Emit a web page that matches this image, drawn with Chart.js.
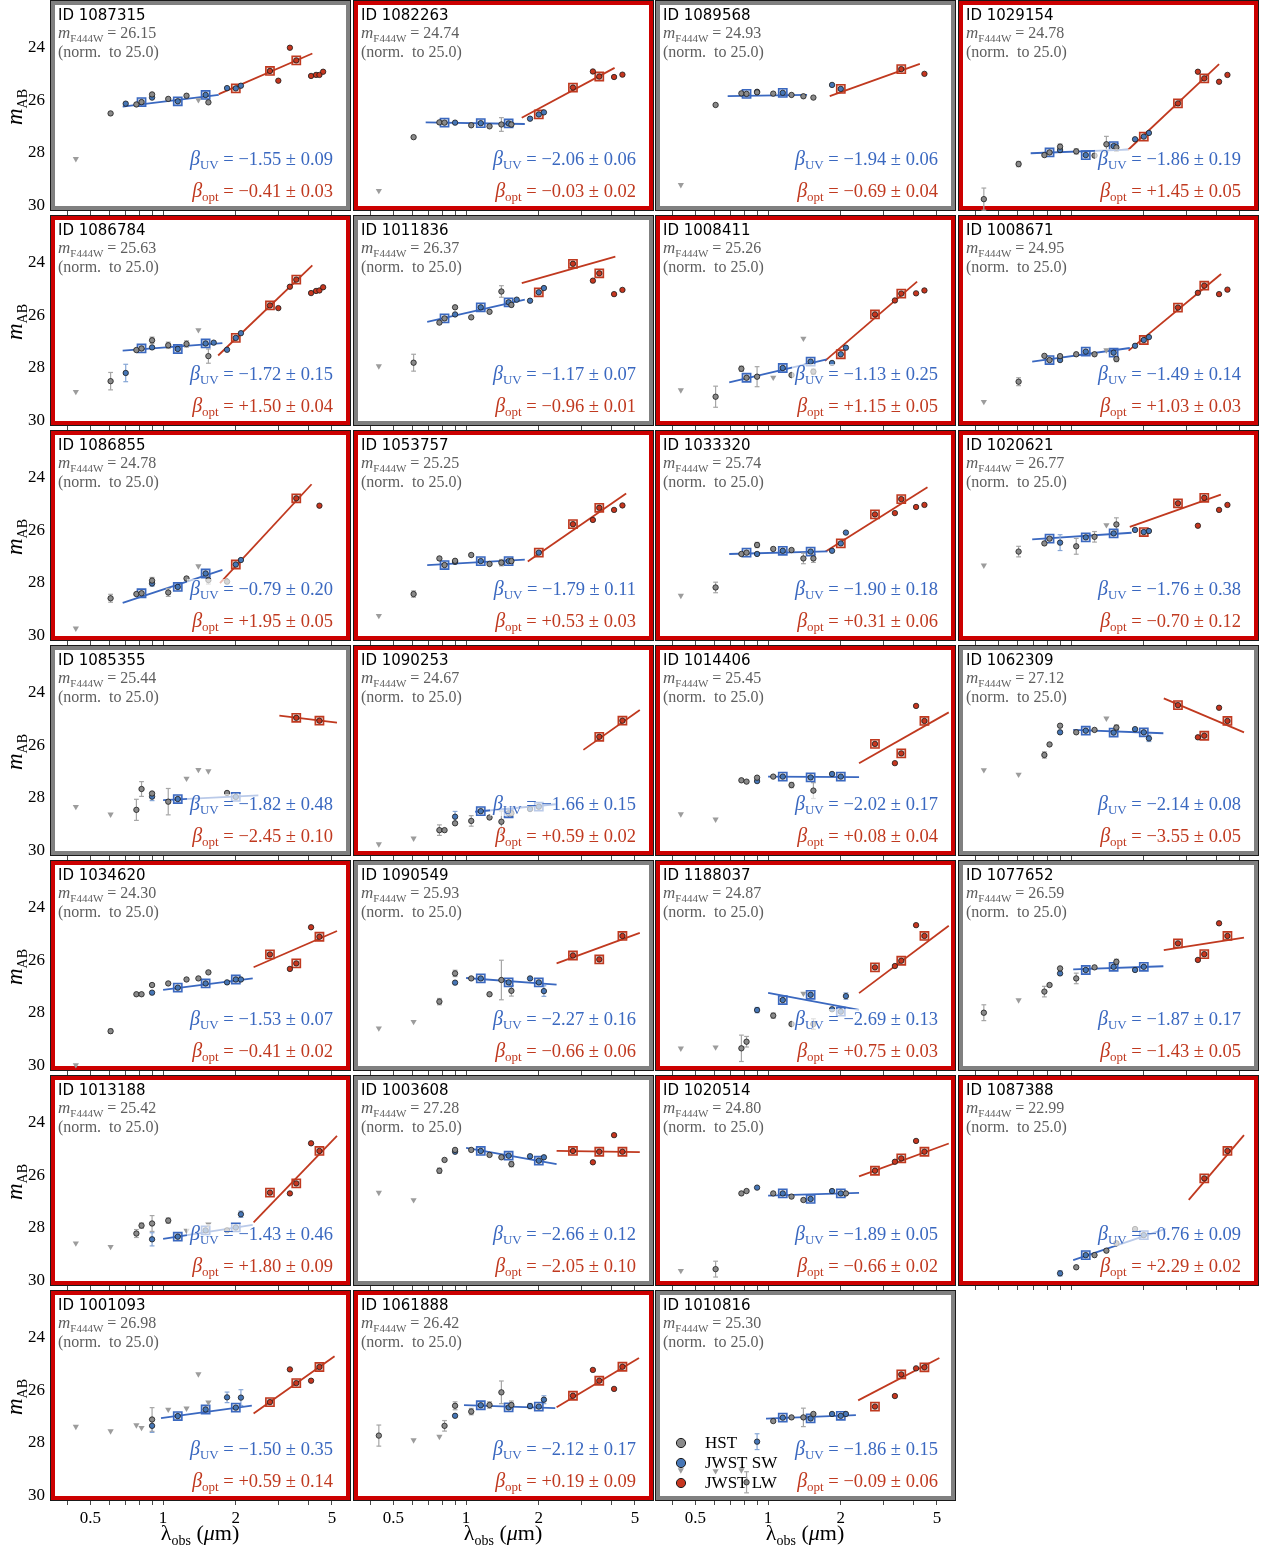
<!DOCTYPE html>
<html>
<head>
<meta charset="utf-8">
<script src="https://cdn.jsdelivr.net/npm/chart.js@4.4.1/dist/chart.umd.min.js"></script>
<style>
html,body{margin:0;padding:0;background:#fff;}
#wrap{position:relative;width:1266px;height:1549px;overflow:hidden;background:#fff;}
#wrap canvas{position:absolute;}
</style>
</head>
<body>
<div id="wrap"></div>
<script>
// ---- Source data: one entry per galaxy, in panel order (row by row, 4 per row) ----
const ids = ['1087315','1082263','1089568','1029154','1086784','1011836','1008411','1008671',
  '1086855','1053757','1033320','1020621','1085355','1090253','1014406','1062309',
  '1034620','1090549','1188037','1077652','1013188','1003608','1020514','1087388',
  '1001093','1061888','1010816'];
const mF444W = [26.15,24.74,24.93,24.78,25.63,26.37,25.26,24.95,24.78,25.25,25.74,26.77,25.44,24.67,
  25.45,27.12,24.30,25.93,24.87,26.59,25.42,27.28,24.80,22.99,26.98,26.42,25.30];
// [value, uncertainty]
const betaUV = [[-1.55,0.09],[-2.06,0.06],[-1.94,0.06],[-1.86,0.19],[-1.72,0.15],[-1.17,0.07],[-1.13,0.25],
  [-1.49,0.14],[-0.79,0.20],[-1.79,0.11],[-1.90,0.18],[-1.76,0.38],[-1.82,0.48],[-1.66,0.15],[-2.02,0.17],
  [-2.14,0.08],[-1.53,0.07],[-2.27,0.16],[-2.69,0.13],[-1.87,0.17],[-1.43,0.46],[-2.66,0.12],[-1.89,0.05],
  [-0.76,0.09],[-1.50,0.35],[-2.12,0.17],[-1.86,0.15]];
const betaOpt = [[-0.41,0.03],[-0.03,0.02],[-0.69,0.04],[1.45,0.05],[1.50,0.04],[-0.96,0.01],[1.15,0.05],
  [1.03,0.03],[1.95,0.05],[0.53,0.03],[0.31,0.06],[-0.70,0.12],[-2.45,0.10],[0.59,0.02],[0.08,0.04],
  [-3.55,0.05],[-0.41,0.02],[-0.66,0.06],[0.75,0.03],[-1.43,0.05],[1.80,0.09],[-2.05,0.10],[-0.66,0.02],
  [2.29,0.02],[0.59,0.14],[0.19,0.09],[-0.09,0.06]];
// 1 = flagged (red frame), 0 = not flagged (grey frame)
const flagged = [0,1,0,1, 1,0,1,1, 1,1,1,1, 0,1,1,0, 1,0,1,0, 1,0,1,1, 1,1,0];

// photometry: [lambda_obs (um), m_AB, error]
const hstPts = [
  [[0.606,26.50,0],[0.775,26.16,0],[0.814,26.07,0],[0.90,25.78,0],[1.05,25.95,0],[1.25,25.83,0],[1.54,26.08,0]],
  [[0.606,27.40,0],[0.775,26.84,0],[0.814,26.85,0],[1.05,26.95,0],[1.25,26.99,0],[1.40,26.92,0.26],[1.54,26.92,0]],
  [[0.606,26.18,0],[0.775,25.74,0],[0.814,25.76,0],[0.90,25.70,0],[1.05,25.75,0],[1.25,25.80,0],[1.40,25.85,0],[1.54,25.90,0]],
  [[0.435,29.75,0.42],[0.606,28.42,0.1],[0.775,28.08,0],[0.814,27.98,0],[0.90,27.76,0.1],[1.05,27.94,0.1],[1.25,28.10,0],[1.40,27.67,0.3],[1.54,27.79,0.15]],
  [[0.606,28.50,0.33],[0.775,27.32,0],[0.814,27.26,0],[0.90,26.95,0.12],[1.05,27.14,0.12],[1.25,27.09,0.12],[1.54,27.55,0.27]],
  [[0.606,27.80,0.32],[0.775,26.28,0],[0.814,26.12,0],[0.90,25.70,0],[1.05,26.08,0],[1.25,25.87,0],[1.40,25.10,0.22],[1.54,25.61,0]],
  [[0.606,29.09,0.4],[0.775,28.03,0.1],[0.814,28.37,0],[0.90,28.33,0.38],[1.25,28.27,0],[1.54,28.14,0.1]],
  [[0.606,28.52,0.15],[0.775,27.54,0],[0.814,27.70,0],[0.90,27.55,0],[1.05,27.48,0],[1.25,27.48,0],[1.54,27.66,0.1]],
  [[0.606,28.58,0.15],[0.775,28.42,0],[0.814,28.39,0],[0.90,27.91,0.12],[1.05,28.36,0.15],[1.25,27.83,0],[1.54,27.89,0.15],[1.84,27.95,0]],
  [[0.606,28.42,0.12],[0.775,27.07,0],[0.814,27.32,0],[0.90,27.16,0],[1.05,26.94,0],[1.25,27.28,0],[1.40,27.23,0.12],[1.54,27.17,0]],
  [[0.606,28.17,0.2],[0.775,26.90,0],[0.814,26.85,0],[0.90,26.56,0.1],[1.05,26.71,0],[1.25,26.75,0],[1.40,27.07,0.2],[1.54,27.07,0.15]],
  [[0.606,26.81,0.2],[0.775,26.50,0],[0.814,26.32,0],[1.05,26.61,0.3],[1.25,26.25,0.2],[1.54,25.78,0.25]],
  [[0.775,28.45,0.4],[0.814,27.66,0.28],[0.90,27.83,0],[1.05,28.14,0.5],[1.84,27.81,0]],
  [[0.775,29.22,0.2],[0.814,29.22,0],[0.90,28.96,0],[1.05,28.87,0.2],[1.25,28.74,0],[1.40,28.90,0.4],[1.54,28.58,0]],
  [[0.775,27.33,0],[0.814,27.38,0],[0.90,27.23,0],[1.05,27.19,0],[1.25,27.51,0.1],[1.54,27.72,0.3]],
  [[0.775,26.37,0.12],[0.814,25.97,0],[0.90,25.26,0],[1.05,25.51,0],[1.25,25.42,0],[1.54,25.33,0.1]],
  [[0.606,28.69,0.08],[0.775,27.29,0],[0.814,27.29,0],[0.90,26.94,0],[1.05,26.88,0],[1.25,26.73,0],[1.40,26.69,0],[1.54,26.46,0]],
  [[0.775,27.57,0.12],[0.90,26.50,0.12],[1.05,26.69,0],[1.25,27.29,0],[1.40,26.75,0.75],[1.54,27.16,0.2]],
  [[0.775,29.34,0.5],[0.814,29.09,0.2],[1.05,28.10,0.1],[1.25,28.42,0],[1.54,28.42,0.2]],
  [[0.435,27.99,0.3],[0.775,27.19,0.2],[0.814,26.94,0],[0.90,26.31,0],[1.05,26.69,0.2],[1.25,26.27,0],[1.54,26.06,0.1]],
  [[0.775,28.21,0.15],[0.814,27.91,0.1],[0.90,27.83,0.3],[1.05,27.72,0.1],[1.84,28.09,0]],
  [[0.775,25.83,0.1],[0.814,25.42,0],[0.90,25.04,0],[1.05,25.04,0],[1.25,25.23,0],[1.40,25.32,0],[1.54,25.58,0.1]],
  [[0.606,29.56,0.3],[0.775,26.69,0],[0.814,26.60,0],[1.05,26.69,0],[1.25,26.81,0],[1.40,26.94,0],[2.1,26.69,0]],
  [[1.05,29.49,0],[1.25,29.03,0],[1.40,28.86,0],[1.54,28.58,0],[1.84,28.04,0]],
  [[0.90,27.11,0.45]],
  [[0.435,27.72,0.4],[0.814,27.35,0.2],[0.90,26.59,0.15],[1.05,26.81,0.12],[1.25,26.56,0.12],[1.40,26.08,0.43],[1.54,26.56,0.15]],
  [[0.814,29.49,0.4],[1.05,27.17,0],[1.25,27.03,0],[1.40,27.03,0.35],[1.54,26.90,0]]
];
const swPts = [
  [[0.70,26.13,0],[0.90,25.90,0],[1.15,26.04,0],[1.50,25.80,0],[1.84,25.54,0],[2.0,25.55,0],[2.1,25.45,0]],
  [[0.90,26.85,0],[1.15,26.87,0],[1.50,26.88,0],[1.84,26.70,0],[2.0,26.54,0],[2.1,26.46,0]],
  [[0.90,25.68,0],[1.15,25.72,0],[1.84,25.42,0],[2.0,25.57,0]],
  [[0.90,27.89,0],[1.15,28.08,0],[1.50,27.74,0],[1.84,27.48,0],[2.0,27.38,0],[2.1,27.24,0]],
  [[0.70,28.19,0.33],[0.90,27.22,0],[1.15,27.28,0],[1.50,27.07,0],[1.62,27.04,0],[1.84,27.31,0],[2.0,26.86,0],[2.1,26.68,0]],
  [[0.90,25.97,0],[1.15,25.70,0],[1.50,25.51,0],[1.62,25.41,0],[1.84,25.45,0],[2.0,25.13,0],[2.1,24.97,0]],
  [[1.15,28.00,0],[1.50,27.76,0],[1.84,27.81,0],[2.0,27.48,0],[2.1,27.23,0]],
  [[0.90,27.70,0],[1.15,27.38,0],[1.50,27.42,0],[1.84,27.16,0],[2.0,26.94,0],[2.1,26.83,0]],
  [[0.90,28.02,0.1],[1.15,28.15,0],[1.50,27.64,0],[2.0,27.30,0],[2.1,27.13,0]],
  [[0.90,27.20,0],[1.15,27.17,0],[1.50,27.17,0],[2.0,26.85,0]],
  [[0.90,26.90,0],[1.15,26.78,0],[1.50,26.81,0],[1.84,26.78,0],[2.0,26.50,0],[2.1,26.09,0]],
  [[0.90,26.47,0.3],[1.15,26.27,0],[1.50,26.12,0],[1.84,25.99,0],[2.0,26.07,0],[2.1,26.03,0]],
  [[0.90,27.95,0.15],[1.15,28.04,0],[2.0,27.96,0]],
  [[0.90,28.71,0.2],[1.15,28.50,0],[1.50,28.58,0],[1.84,28.42,0],[2.0,28.33,0]],
  [[0.90,27.36,0],[1.15,27.19,0],[1.50,27.22,0],[1.84,27.09,0],[2.0,27.19,0]],
  [[0.90,25.51,0],[1.15,25.45,0],[1.50,25.52,0],[1.84,25.39,0],[2.0,25.51,0],[2.1,25.74,0.12]],
  [[0.90,27.23,0],[1.15,27.04,0],[1.50,26.88,0],[1.84,26.84,0],[2.0,26.73,0],[2.1,26.73,0]],
  [[0.90,26.85,0],[1.15,26.69,0],[1.50,26.84,0],[1.84,26.69,0],[2.0,26.84,0],[2.1,27.17,0.2]],
  [[0.90,27.89,0.1],[1.15,27.51,0],[1.50,27.31,0],[1.84,27.86,0],[2.0,27.95,0],[2.1,27.36,0.12]],
  [[0.90,26.50,0],[1.15,26.37,0],[1.50,26.25,0],[1.84,26.37,0],[2.0,26.25,0]],
  [[0.90,28.43,0.25],[1.15,28.33,0],[1.50,28.09,0],[2.0,27.98,0],[2.1,27.48,0.12]],
  [[0.90,25.11,0],[1.15,25.08,0],[1.50,25.26,0],[1.84,25.28,0],[2.0,25.45,0],[2.1,25.32,0]],
  [[0.90,26.47,0],[1.15,26.69,0],[1.50,26.90,0],[1.84,26.60,0],[2.0,26.69,0]],
  [[0.90,29.72,0.1],[1.15,29.03,0],[2.0,28.27,0]],
  [[0.90,27.35,0.25],[1.15,26.98,0],[1.50,26.73,0],[1.84,26.27,0.2],[2.0,26.66,0],[2.1,26.28,0.3]],
  [[0.90,26.97,0],[1.15,26.57,0],[1.50,26.65,0],[1.84,26.60,0.1],[2.0,26.62,0],[2.1,26.36,0.15]],
  [[0.90,27.95,0.3],[1.15,27.04,0],[1.50,27.07,0],[1.84,26.90,0],[2.0,26.97,0],[2.1,26.90,0]]
];
const lwPts = [
  [[2.77,24.89],[3.0,25.26],[3.35,24.01],[3.56,24.49],[4.1,25.08],[4.3,25.04],[4.44,25.04],[4.6,24.92]],
  [[2.77,25.52],[3.35,24.91],[3.56,25.10],[4.1,25.12],[4.44,25.03]],
  [[3.56,24.82],[4.44,25.00]],
  [[2.77,26.12],[3.35,24.92],[3.56,25.17],[4.1,25.30],[4.44,25.04]],
  [[2.77,25.63],[3.0,25.73],[3.35,24.92],[3.56,24.65],[4.1,25.16],[4.3,25.08],[4.44,25.06],[4.6,24.94]],
  [[2.77,24.05],[3.35,24.69],[3.56,24.41],[4.1,25.20],[4.44,25.04]],
  [[2.77,25.97],[3.35,25.44],[3.56,25.18],[4.1,25.17],[4.44,25.06]],
  [[2.77,25.71],[3.35,25.15],[3.56,24.88],[4.1,25.20],[4.44,25.03]],
  [[3.56,24.79],[4.44,25.07]],
  [[2.77,25.77],[3.35,25.61],[3.56,25.15],[4.1,25.23],[4.44,25.06]],
  [[2.77,25.40],[3.35,25.35],[3.56,24.82],[4.1,25.12],[4.44,25.04]],
  [[2.77,24.98],[3.35,25.83],[3.56,24.77],[4.1,25.23],[4.44,25.04]],
  [[3.56,24.96],[4.44,25.07]],
  [[3.56,25.68],[4.44,25.07]],
  [[2.77,25.95],[3.35,26.68],[3.56,26.31],[4.1,24.51],[4.44,25.08]],
  [[2.77,24.48],[3.35,25.70],[3.56,25.64],[4.1,24.58],[4.44,25.08]],
  [[2.77,25.78],[3.35,26.33],[3.56,26.12],[4.1,24.75],[4.44,25.11]],
  [[2.77,25.82],[3.56,25.97],[4.44,25.08]],
  [[2.77,26.27],[3.35,26.22],[3.56,26.02],[4.1,24.67],[4.44,25.08]],
  [[2.77,25.36],[3.35,25.99],[3.56,25.77],[4.1,24.60],[4.44,25.08]],
  [[2.77,26.66],[3.35,26.69],[3.56,26.31],[4.1,24.79],[4.44,25.08]],
  [[2.77,25.08],[3.35,25.51],[3.56,25.11],[4.1,24.48],[4.44,25.11]],
  [[2.77,25.83],[3.35,25.49],[3.56,25.36],[4.1,24.70],[4.44,25.11]],
  [[3.56,26.12],[4.44,25.08]],
  [[2.77,26.45],[3.35,25.21],[3.56,25.73],[4.1,25.64],[4.44,25.12]],
  [[2.77,26.21],[3.35,25.23],[3.56,25.64],[4.1,25.95],[4.44,25.11]],
  [[2.77,26.62],[3.35,26.22],[3.56,25.40],[4.1,25.17],[4.44,25.13]]
];
// non-detections: [lambda_obs, m_AB limit]
const limPts = [
  [[0.435,28.22],[1.40,25.99]], [[0.435,29.43]], [[0.435,29.21]], [],
  [[0.435,28.90],[1.40,26.56]], [[0.435,27.93]], [[0.435,28.84],[1.05,28.36],[1.40,26.88]], [[0.435,29.28],[1.40,27.32]],
  [[0.435,29.72],[1.40,27.36]], [[0.435,29.24]], [[0.435,28.48]], [[0.435,27.33],[1.40,25.80]],
  [[0.435,28.33],[0.606,28.62],[1.25,27.26],[1.40,26.93],[1.54,26.98]], [[0.435,29.75],[0.606,29.53]], [[0.435,28.61],[0.606,28.81]], [[0.435,26.94],[0.606,27.11],[1.40,24.98]],
  [[0.435,29.97]], [[0.435,28.58],[0.606,28.33]], [[0.435,29.34],[0.606,29.30],[1.40,27.26]], [[0.606,27.51]],
  [[0.435,28.58],[0.606,28.71],[1.25,28.10],[1.54,27.86]], [[0.435,26.66],[0.606,26.94]], [[0.435,29.62]], [],
  [[0.435,27.38],[0.606,27.55],[0.775,27.32],[0.814,27.42],[1.05,26.73],[1.25,26.69],[1.40,25.39],[1.54,26.46]],
  [[0.606,27.89],[0.775,27.76]], [[0.435,29.03],[0.606,29.06],[0.775,29.03]]
];
// photometry entering the UV and optical slope fits
const uvBoxes = [
  [[0.814,26.07],[1.15,26.04],[1.50,25.80]], [[0.814,26.85],[1.15,26.87],[1.50,26.88]], [[0.814,25.76],[1.15,25.72]], [[0.814,27.98],[1.15,28.08],[1.50,27.74]],
  [[0.814,27.26],[1.15,27.28],[1.50,27.07]], [[0.814,26.12],[1.15,25.70],[1.50,25.51]], [[0.814,28.37],[1.15,28.00],[1.50,27.76]], [[0.814,27.70],[1.15,27.38],[1.50,27.42]],
  [[0.814,28.39],[1.15,28.15],[1.50,27.64]], [[0.814,27.32],[1.15,27.17],[1.50,27.17]], [[0.814,26.85],[1.15,26.78],[1.50,26.81]], [[0.814,26.32],[1.15,26.27],[1.50,26.12]],
  [[1.15,28.04],[2.0,27.96]], [[1.15,28.50],[1.50,28.58],[2.0,28.33]], [[1.15,27.19],[1.50,27.22],[2.0,27.19]], [[1.15,25.45],[1.50,25.52],[2.0,25.51]],
  [[1.15,27.04],[1.50,26.88],[2.0,26.73]], [[1.15,26.69],[1.50,26.84],[2.0,26.84]], [[1.15,27.51],[1.50,27.31],[2.0,27.95]], [[1.15,26.37],[1.50,26.25],[2.0,26.25]],
  [[1.15,28.33],[1.50,28.09],[2.0,27.98]], [[1.15,25.08],[1.50,25.26],[2.0,25.45]], [[1.15,26.69],[1.50,26.90],[2.0,26.69]], [[1.15,29.03],[2.0,28.27]],
  [[1.15,26.98],[1.50,26.73],[2.0,26.66]], [[1.15,26.57],[1.50,26.65],[2.0,26.62]], [[1.15,27.04],[1.50,27.07],[2.0,26.97]]
];
const optBoxes = [
  [[2.0,25.55],[2.77,24.89],[3.56,24.49]], [[2.0,26.54],[2.77,25.52],[3.56,25.10]], [[2.0,25.57],[3.56,24.82]], [[2.0,27.38],[2.77,26.12],[3.56,25.17]],
  [[2.0,26.86],[2.77,25.63],[3.56,24.65]], [[2.0,25.13],[2.77,24.05],[3.56,24.41]], [[2.0,27.48],[2.77,25.97],[3.56,25.18]], [[2.0,26.94],[2.77,25.71],[3.56,24.88]],
  [[2.0,27.30],[3.56,24.79]], [[2.0,26.85],[2.77,25.77],[3.56,25.15]], [[2.0,26.50],[2.77,25.40],[3.56,24.82]], [[2.0,26.07],[2.77,24.98],[3.56,24.77]],
  [[3.56,24.96],[4.44,25.07]], [[3.56,25.68],[4.44,25.07]], [[2.77,25.95],[3.56,26.31],[4.44,25.08]], [[2.77,24.48],[3.56,25.64],[4.44,25.08]],
  [[2.77,25.78],[3.56,26.12],[4.44,25.11]], [[2.77,25.82],[3.56,25.97],[4.44,25.08]], [[2.77,26.27],[3.56,26.02],[4.44,25.08]], [[2.77,25.36],[3.56,25.77],[4.44,25.08]],
  [[2.77,26.66],[3.56,26.31],[4.44,25.08]], [[2.77,25.08],[3.56,25.11],[4.44,25.11]], [[2.77,25.83],[3.56,25.36],[4.44,25.11]], [[3.56,26.12],[4.44,25.08]],
  [[2.77,26.45],[3.56,25.73],[4.44,25.12]], [[2.77,26.21],[3.56,25.64],[4.44,25.11]], [[2.77,26.62],[3.56,25.40],[4.44,25.13]]
];
// power-law fits: [lambda_start, lambda_end, m_AB at the log-centre]; slope follows from beta
const uvFit = [
  [0.68,1.70,26.02],[0.68,1.75,26.87],[0.68,1.45,25.82],[0.68,1.72,27.94],
  [0.68,1.76,27.20],[0.69,1.75,25.83],[0.69,1.75,28.11],[0.69,1.75,27.50],
  [0.68,1.76,28.13],[0.69,1.75,27.22],[0.69,1.76,26.85],[0.69,1.78,26.22],
  [1.00,2.48,27.99],[1.09,2.35,28.38],[1.00,2.38,27.20],[1.02,2.41,25.48],
  [1.00,2.35,26.91],[1.00,2.37,26.80],[1.00,2.38,27.56],[1.02,2.41,26.29],
  [1.00,2.35,28.15],[1.00,2.37,25.27],[1.00,2.38,26.72],[1.02,2.46,28.63],
  [0.98,2.33,26.82],[0.98,2.34,26.62],[0.98,2.31,27.01]
];
const optFit = [
  [1.70,4.15,25.00],[1.70,4.12,25.72],[1.80,4.25,25.23],[1.72,4.10,26.26],
  [1.69,4.15,25.82],[1.70,4.15,24.28],[1.72,4.14,26.23],[1.73,4.18,25.89],
  [1.72,4.12,26.13],[1.80,4.60,25.90],[1.73,4.57,25.59],[1.75,4.17,25.26],
  [3.03,5.25,25.01],[3.06,5.24,25.42],[2.38,5.60,25.72],[2.42,5.20,24.87],
  [2.37,5.25,25.58],[2.37,5.24,25.54],[2.38,5.60,25.97],[2.42,5.20,25.38],
  [2.37,5.25,26.15],[2.37,5.24,25.10],[2.38,5.60,25.42],[3.07,5.20,25.71],
  [2.37,5.13,25.80],[2.37,5.20,25.71],[2.36,5.12,25.58]
];
const xTickLabels = [0.5, 1, 2, 5];
const xMinorTicks = [0.4,0.5,0.6,0.7,0.8,0.9,1,2,3,4,5,6];
const yTickValues = [24, 26, 28, 30];
const legendLabels = ['HST', 'JWST SW', 'JWST LW'];

// ---- Layout and style ----
const LEFT = 50, COLW = 302.5, ROWH = 215, PW = 301, PH = 211;
const SERIF = '"Liberation Serif", "DejaVu Serif", serif';
const C = {
  hst: '#8a8a8a', sw: '#4676b6', lw: '#c6361f',
  blue: '#3a68c0', red: '#c0391f', lim: '#9c9c9c',
  hstErr: '#a6a6a6', swErr: '#86a6d6',
  frameRed: '#cc0000', frameGray: '#808080', textGray: '#5e5e5e'
};

function pts(list) { return list.map(p => ({x: p[0], y: p[1]})); }
function errSegs(list) {
  const d = [];
  list.forEach(p => { if (p[2] > 0) d.push({x: p[0], y: p[1] - p[2]}, {x: p[0], y: p[1] + p[2]}, {x: p[0], y: null}); });
  return d;
}
function errCaps(list) {
  const d = [];
  list.forEach(p => { if (p[2] > 0) d.push({x: p[0], y: p[1] - p[2]}, {x: p[0], y: p[1] + p[2]}); });
  return d;
}
// m_AB(lambda) = m_mid - 2.5 (beta + 2) log10(lambda / lambda_mid)
function fitLine(fit, beta) {
  const [l1, l2, mMid] = fit;
  const lm = Math.sqrt(l1 * l2), k = -2.5 * (beta + 2);
  return [l1, l2].map(l => ({x: l, y: mMid + k * Math.log10(l / lm)}));
}

function richWidth(ctx, parts) {
  let w = 0;
  parts.forEach(p => { ctx.font = p.f; w += ctx.measureText(p.t).width; });
  return w;
}
function drawRich(ctx, parts, x, y, align, color) {
  const w = richWidth(ctx, parts);
  let cx = align === 'right' ? x - w : (align === 'center' ? x - w / 2 : x);
  ctx.fillStyle = color; ctx.textAlign = 'left'; ctx.textBaseline = 'alphabetic';
  parts.forEach(p => { ctx.font = p.f; ctx.fillText(p.t, cx, y + (p.dy || 0)); cx += ctx.measureText(p.t).width; });
}
function fmtSigned(v) { return (v < 0 ? '\u2212' : '+') + Math.abs(v).toFixed(2); }
function betaParts(sub, b) {
  return [
    {t: '\u03b2', f: `italic 20px ${SERIF}`},
    {t: sub, f: `13px ${SERIF}`, dy: 4},
    {t: ' = ' + fmtSigned(b[0]) + ' \u00b1 ' + b[1].toFixed(2), f: `18.5px ${SERIF}`}
  ];
}
function drawBeta(ctx, parts, xr, y, color) {
  const w = richWidth(ctx, parts);
  ctx.fillStyle = 'rgba(255,255,255,0.65)';
  ctx.fillRect(xr - w - 3, y - 16, w + 6, 22);
  drawRich(ctx, parts, xr, y, 'right', color);
}

const deco = {
  id: 'deco',
  beforeDatasetsDraw(chart, args, opts) {
    const i = opts.index, ctx = chart.ctx, a = chart.chartArea;
    ctx.save();
    ctx.lineWidth = 5;
    ctx.strokeStyle = flagged[i] ? C.frameRed : C.frameGray;
    ctx.strokeRect(a.left + 2.5, a.top + 2.5, a.width - 5, a.height - 5);
    ctx.lineWidth = 1;
    ctx.strokeStyle = '#1a1a1a';
    ctx.strokeRect(a.left + 0.5, a.top + 0.5, a.width - 1, a.height - 1);
    if (opts.legend) {
      const cols = [C.hst, C.sw, C.lw];
      legendLabels.forEach((lab, k) => {
        const cy = a.top + 153 + k * 20;
        ctx.beginPath(); ctx.arc(a.left + 26, cy, 4.6, 0, Math.PI * 2);
        ctx.fillStyle = cols[k]; ctx.fill();
        ctx.lineWidth = 1; ctx.strokeStyle = '#1a1a1a'; ctx.stroke();
        ctx.fillStyle = '#000'; ctx.font = `17px ${SERIF}`;
        ctx.textAlign = 'left'; ctx.textBaseline = 'middle';
        ctx.fillText(lab, a.left + 50, cy + 1);
      });
    }
    ctx.restore();
  },
  afterDatasetsDraw(chart, args, opts) {
    const i = opts.index, ctx = chart.ctx, a = chart.chartArea;
    ctx.save();
    ctx.fillStyle = '#000'; ctx.font = '15px "DejaVu Sans", sans-serif';
    ctx.textAlign = 'left'; ctx.textBaseline = 'alphabetic';
    ctx.fillText('ID ' + ids[i], a.left + 8, a.top + 20);
    drawRich(ctx, [
      {t: 'm', f: `italic 17px ${SERIF}`},
      {t: 'F444W', f: `11px ${SERIF}`, dy: 4},
      {t: ' = ' + mF444W[i].toFixed(2), f: `16px ${SERIF}`}
    ], a.left + 8, a.top + 38, 'left', C.textGray);
    ctx.font = `16px ${SERIF}`; ctx.fillStyle = C.textGray;
    ctx.fillText('(norm.  to 25.0)', a.left + 8, a.top + 57);
    drawBeta(ctx, betaParts('UV', betaUV[i]), a.right - 18, a.top + 165, C.blue);
    drawBeta(ctx, betaParts('opt', betaOpt[i]), a.right - 18, a.top + 197, C.red);
    ctx.restore();
  },
  afterDraw(chart, args, opts) {
    const ctx = chart.ctx, a = chart.chartArea;
    ctx.save();
    if (opts.yTitle) {
      ctx.translate(16, a.top + 107);
      ctx.rotate(-Math.PI / 2);
      drawRich(ctx, [{t: 'm', f: `italic 23px ${SERIF}`}, {t: 'AB', f: `14px ${SERIF}`, dy: 5}], 0, 6, 'center', '#000');
      ctx.setTransform(1, 0, 0, 1, 0, 0);
    }
    if (opts.xTitle) {
      drawRich(ctx, [
        {t: '\u03bb', f: `22px ${SERIF}`},
        {t: 'obs', f: `14px ${SERIF}`, dy: 5},
        {t: ' (', f: `22px ${SERIF}`},
        {t: '\u03bc', f: `italic 22px ${SERIF}`},
        {t: 'm)', f: `22px ${SERIF}`}
      ], a.left + 150, a.top + 250, 'center', '#000');
    }
    ctx.restore();
  }
};

const wrap = document.getElementById('wrap');
ids.forEach((id, i) => {
  const r = Math.floor(i / 4), c = i % 4;
  const bottom = i >= 24;
  const padL = c === 0 ? LEFT : 0;
  const extraB = bottom ? 48 : 4;
  const W = padL + PW, H = PH + extraB;
  const cv = document.createElement('canvas');
  cv.width = W; cv.height = H;
  cv.style.width = W + 'px'; cv.style.height = H + 'px';
  cv.style.left = (c === 0 ? 0 : Math.round(LEFT + c * COLW)) + 'px';
  cv.style.top = (r * ROWH) + 'px';
  wrap.appendChild(cv);

  const datasets = [
    {type: 'line', data: fitLine(uvFit[i], betaUV[i][0]), borderColor: C.blue, borderWidth: 1.8, pointRadius: 0, order: 6},
    {type: 'line', data: fitLine(optFit[i], betaOpt[i][0]), borderColor: C.red, borderWidth: 1.8, pointRadius: 0, order: 6},
    {type: 'line', data: errSegs(hstPts[i]), borderColor: C.hstErr, borderWidth: 1.2, pointRadius: 0, spanGaps: false, order: 5},
    {type: 'line', data: errSegs(swPts[i]), borderColor: C.swErr, borderWidth: 1.2, pointRadius: 0, spanGaps: false, order: 5},
    {type: 'scatter', data: errCaps(hstPts[i]), pointStyle: 'line', pointRadius: 2.4, borderColor: C.hstErr, borderWidth: 1.2, order: 5},
    {type: 'scatter', data: errCaps(swPts[i]), pointStyle: 'line', pointRadius: 2.4, borderColor: C.swErr, borderWidth: 1.2, order: 5},
    {type: 'scatter', data: pts(uvBoxes[i]), pointStyle: 'rect', pointRadius: 5.8, backgroundColor: 'rgba(58,104,192,0.22)', borderColor: C.blue, borderWidth: 1.6, order: 3},
    {type: 'scatter', data: pts(optBoxes[i]), pointStyle: 'rect', pointRadius: 5.8, backgroundColor: 'rgba(192,57,31,0.22)', borderColor: C.red, borderWidth: 1.6, order: 3},
    {type: 'scatter', data: pts(limPts[i]), pointStyle: 'triangle', rotation: 180, pointRadius: 3.6, backgroundColor: C.lim, borderColor: C.lim, borderWidth: 0, order: 2},
    {type: 'scatter', data: pts(hstPts[i]), pointRadius: 2.7, backgroundColor: C.hst, borderColor: '#1a1a1a', borderWidth: 0.8, order: 1},
    {type: 'scatter', data: pts(swPts[i]), pointRadius: 2.7, backgroundColor: C.sw, borderColor: '#1a1a1a', borderWidth: 0.8, order: 1},
    {type: 'scatter', data: pts(lwPts[i]), pointRadius: 2.7, backgroundColor: C.lw, borderColor: '#1a1a1a', borderWidth: 0.8, order: 1}
  ];

  new Chart(cv, {
    type: 'scatter',
    data: {datasets},
    options: {
      responsive: false, animation: false, devicePixelRatio: 1, events: [],
      layout: {padding: 0, autoPadding: false},
      plugins: {
        legend: {display: false}, tooltip: {enabled: false},
        deco: {index: i, legend: i === 26, yTitle: c === 0, xTitle: bottom}
      },
      scales: {
        x: {
          type: 'logarithmic', min: 0.34, max: 6, bounds: 'data',
          afterBuildTicks: s => { s.ticks = xMinorTicks.map(v => ({value: v})); },
          afterFit: s => { s.height = extraB; s.paddingLeft = 0; s.paddingRight = 0; },
          ticks: {
            display: bottom, autoSkip: false, maxRotation: 0, padding: 3, color: '#000',
            font: {family: SERIF, size: 17},
            callback: v => xTickLabels.includes(v) ? String(v) : ''
          },
          grid: {display: true, drawOnChartArea: false, drawTicks: true, tickLength: 4, color: '#1a1a1a', lineWidth: 0.8},
          border: {display: false}
        },
        y: {
          type: 'linear', reverse: true, min: 22.2, max: 30.2, bounds: 'data',
          afterBuildTicks: s => { s.ticks = yTickValues.map(v => ({value: v})); },
          afterFit: s => { s.width = padL; s.paddingTop = 0; s.paddingBottom = 0; },
          ticks: {display: c === 0, padding: 5, color: '#000', font: {family: SERIF, size: 17}},
          grid: {display: false, drawTicks: false},
          border: {display: false}
        }
      }
    },
    plugins: [deco]
  });
});
</script>
</body>
</html>
